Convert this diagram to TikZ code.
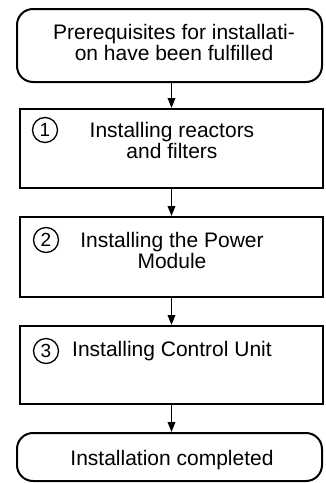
\documentclass[tikz,border=0pt]{standalone}
\usepackage{fontspec}
\setmainfont{Liberation Sans}
\usetikzlibrary{arrows.meta}
\begin{document}
\begin{tikzpicture}[x=1pt,y=-1pt,
  box/.style={draw,line width=2pt,inner sep=0pt},
  term/.style={box,rounded corners=16pt},
  stepbox/.style={box},
  txt/.style={anchor=base,inner sep=0pt,align=center,font=\fontsize{21}{21}\selectfont},
  num/.style={draw,circle,line width=1.3pt,minimum size=25pt,inner sep=0pt,font=\fontsize{19}{19}\selectfont},
  flow/.style={line width=1.8pt,-{Triangle[length=10pt,width=7.5pt]}}]
\useasboundingbox (0,0) rectangle (325,483);
\node[term,minimum width=305pt,minimum height=73pt] (start) at (169.5,45.5) {};
\node[stepbox,minimum width=303pt,minimum height=79pt] (b1) at (171.5,148.5) {};
\node[stepbox,minimum width=303pt,minimum height=80pt] (b2) at (171.5,257) {};
\node[stepbox,minimum width=303pt,minimum height=78pt] (b3) at (171.5,365) {};
\node[term,minimum width=305pt,minimum height=48pt] (end) at (169.5,457) {};
\node[txt] (t0) at (174,60) {Prerequisites for installati-\\on have been fulfilled};
\node[txt] (t1) at (172,158) {Installing reactors\\and filters};
\node[txt] (t2) at (172,268) {Installing the Power\\Module};
\node[txt] (t3) at (172,356) {Installing Control Unit};
\node[txt] (t4) at (172,465) {Installation completed};
\node[num] (n1) at (45,130) {1};
\node[num] (n2) at (46,240) {2};
\node[num] (n3) at (46,351) {3};
\draw[flow] (b1.north |- start.south) -- (b1.north);
\draw[flow] (b1.south) -- (b2.north);
\draw[flow] (b2.south) -- (b3.north);
\draw[flow] (b3.south) -- (b3.south |- end.north);
\end{tikzpicture}
\end{document}
